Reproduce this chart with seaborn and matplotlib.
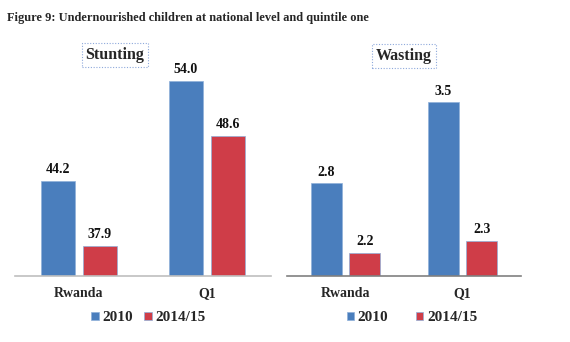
import matplotlib
matplotlib.use("Agg")
import matplotlib.pyplot as plt
import seaborn as sns
import pandas as pd

# ---- data ----
areas = ["Rwanda", "Q1"]
years = ["2010", "2014/15"]
stunting_2010 = [44.2, 54.0]
stunting_2014 = [37.9, 48.6]
wasting_2010 = [2.8, 3.5]
wasting_2014 = [2.2, 2.3]
title = "Figure 9: Undernourished children at national level and quintile one"
panel_titles = ["Stunting", "Wasting"]

BLUE = "#4A7EBD"
RED = "#CF3D48"
FONT = "Liberation Serif"

sns.set_theme(style="white")
plt.rcParams["font.family"] = [FONT, "DejaVu Serif"]
plt.rcParams["font.weight"] = "bold"

W, H = 570, 342
fig = plt.figure(figsize=(W / 100, H / 100), dpi=100)


def px_axes(x0, x1, y_base, y_top):
    return fig.add_axes([x0 / W, (H - y_base) / H, (x1 - x0) / W, (y_base - y_top) / H])


def make_df(v10, v14):
    rows = []
    for a, v in zip(areas, v10):
        rows.append({"area": a, "year": years[0], "value": v})
    for a, v in zip(areas, v14):
        rows.append({"area": a, "year": years[1], "value": v})
    return pd.DataFrame(rows)


panels = [
    dict(df=make_df(stunting_2010, stunting_2014), x0=15, x1=271, base=275.7,
         ylim=(35, 57), scale=10.27, spine="#BFBFBF", tcx=115, tcy=55,
         lgx=148.5, colsp=0.75),
    dict(df=make_df(wasting_2010, wasting_2014), x0=287, x1=521, base=276,
         ylim=(2.0, 3.8), scale=115.7, spine="#808080", tcx=404, tcy=56,
         lgx=412, colsp=1.8),
]

for p, ptitle in zip(panels, panel_titles):
    top = p["base"] - (p["ylim"][1] - p["ylim"][0]) * p["scale"]
    ax = px_axes(p["x0"], p["x1"], p["base"], top)
    sns.barplot(data=p["df"], x="area", y="value", hue="year",
                palette=[BLUE, RED], width=0.656, gap=0.19, ax=ax,
                edgecolor="#8FB0DA", linewidth=0.5, saturation=1)
    ax.set_ylim(*p["ylim"])
    ax.set_xlim(-0.5, 1.5)
    for c in ax.containers:
        labels = ax.bar_label(c, fmt="%.1f", padding=3.5, fontsize=10,
                              fontweight="bold", color="#111111")
        for t in labels:
            t.set_clip_on(False)
    for s in ["top", "left", "right"]:
        ax.spines[s].set_visible(False)
    ax.spines["bottom"].set_color(p["spine"])
    ax.spines["bottom"].set_linewidth(1.2)
    ax.set_xlabel("")
    ax.set_ylabel("")
    ax.set_yticks([])
    ax.tick_params(axis="x", length=0, pad=8, labelsize=10)
    for t in ax.get_xticklabels():
        t.set_fontweight("bold")
    handles, labs = ax.get_legend_handles_labels()
    ax.legend(handles, labs, loc="center", ncol=2, frameon=False,
              bbox_to_anchor=(p["lgx"] / W, (H - 317.7) / H),
              bbox_transform=fig.transFigure,
              handlelength=0.48, handleheight=0.48, handletextpad=0.25,
              columnspacing=p["colsp"], prop={"family": FONT, "weight": "bold", "size": 11})
    fig.text(p["tcx"] / W, (H - p["tcy"]) / H, ptitle, ha="center", va="center",
             fontsize=11.5, fontweight="bold",
             bbox=dict(boxstyle="square,pad=0.22", fc="white", ec="#8EA9DB",
                       ls=(0, (1, 1.5)), lw=0.8))

fig.text(7 / W, (H - 18) / H, title, ha="left", va="center", fontsize=8.9,
         fontweight="bold")

fig.savefig("out.png", dpi=100)
